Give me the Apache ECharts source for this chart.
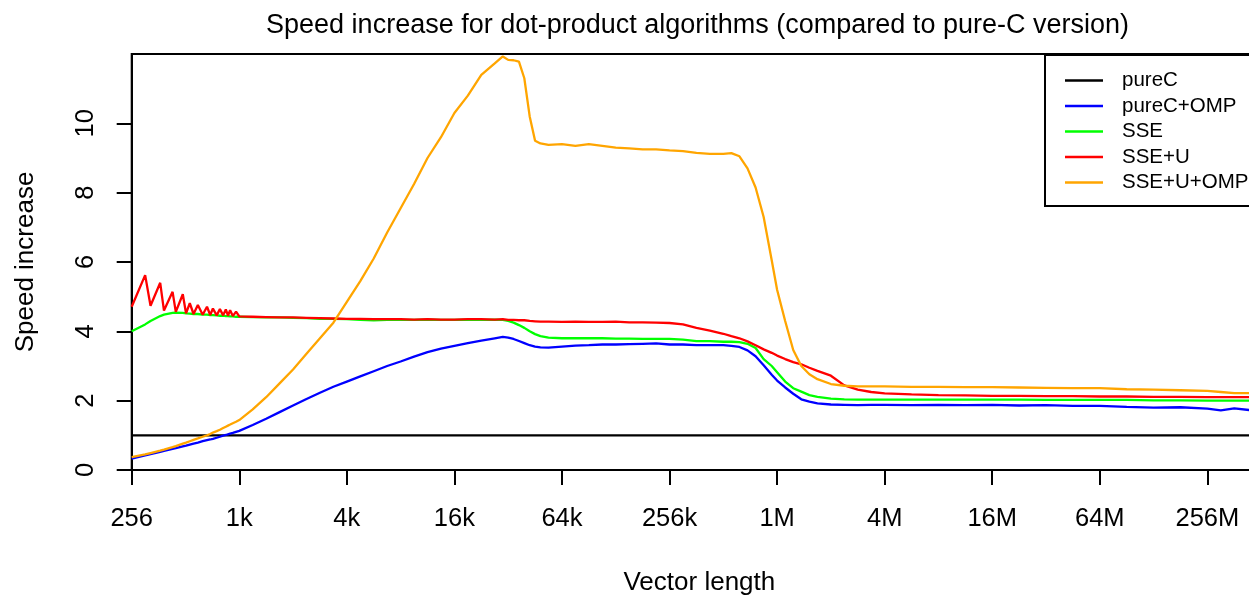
<!DOCTYPE html>
<html><head><meta charset="utf-8">
<script src="https://cdn.jsdelivr.net/npm/echarts@6/dist/echarts.min.js"></script>
<style>html,body{margin:0;padding:0;background:#fff}#c{width:1249px;height:595px}</style>
</head><body><div id="c"></div>
<script>
const FONT = "'Liberation Sans', Arial, Helvetica, sans-serif";

// x positions: log2 of vector length
const log2Len = [8.00, 8.25, 8.35, 8.53, 8.60, 8.76, 8.82, 8.95, 9.01, 9.08, 9.15, 9.23, 9.32, 9.40, 9.46, 9.51, 9.58, 9.64, 9.70, 9.75, 9.79, 9.83, 9.88, 9.94, 10.0,
  10.25, 10.5, 10.75, 11.0, 11.25, 11.5, 11.75, 12.0, 12.25, 12.5, 12.75, 13.0, 13.25, 13.5, 13.75, 14.0, 14.25, 14.5, 14.75,
  14.9, 15.0, 15.1, 15.2, 15.3, 15.4, 15.5, 15.6, 15.75,
  16.0, 16.25, 16.5, 16.75, 17.0, 17.25, 17.5, 17.75, 18.0, 18.25, 18.5, 18.75, 19.0,
  19.15, 19.3, 19.45, 19.6, 19.75, 19.9, 20.0, 20.15, 20.3, 20.45, 20.6, 20.75,
  21.0, 21.25, 21.5, 21.75, 22.0, 22.5, 23.0, 23.5, 24.0, 24.5, 25.0, 25.5, 26.0, 26.5, 27.0, 27.5, 28.0, 28.25, 28.5, 28.83];

const pureCLen = [8.00, 28.83];
const pureC = [1, 1];

const pureCOMP = [0.33, 0.42, 0.46, 0.52, 0.55, 0.61, 0.63, 0.68, 0.70, 0.73, 0.76, 0.79, 0.83, 0.86, 0.88, 0.90, 0.93, 0.96, 0.99, 1.01, 1.03, 1.05, 1.07, 1.10, 1.13,
  1.30, 1.48, 1.67, 1.86, 2.05, 2.23, 2.40, 2.55, 2.70, 2.85, 3.00, 3.13, 3.27, 3.40, 3.50, 3.58, 3.66, 3.73, 3.80,
  3.84, 3.82, 3.78, 3.72, 3.66, 3.60, 3.56, 3.54, 3.53,
  3.56, 3.59, 3.60, 3.62, 3.62, 3.63, 3.64, 3.65, 3.62, 3.62, 3.60, 3.60, 3.60,
  3.58, 3.55, 3.45, 3.28, 3.02, 2.75, 2.58, 2.38, 2.20, 2.04, 1.97, 1.92,
  1.89, 1.88, 1.87, 1.88, 1.88, 1.87, 1.88, 1.87, 1.88, 1.86, 1.87, 1.85, 1.85, 1.82, 1.80, 1.81, 1.77, 1.72, 1.78, 1.72];

const sse = [4.00, 4.20, 4.30, 4.44, 4.48, 4.53, 4.54, 4.53, 4.52, 4.51, 4.50, 4.50, 4.48, 4.48, 4.47, 4.47, 4.46, 4.45, 4.45, 4.44, 4.44, 4.43, 4.43, 4.42, 4.42,
  4.41, 4.40, 4.40, 4.39, 4.38, 4.36, 4.36, 4.35, 4.33, 4.32, 4.33, 4.33, 4.33, 4.34, 4.33, 4.33, 4.34, 4.33, 4.34,
  4.33, 4.30, 4.25, 4.18, 4.10, 4.00, 3.92, 3.86, 3.82,
  3.80, 3.80, 3.80, 3.80, 3.79, 3.79, 3.78, 3.78, 3.78, 3.76, 3.72, 3.72, 3.70,
  3.70, 3.69, 3.64, 3.52, 3.20, 3.00, 2.82, 2.55, 2.36, 2.26, 2.16, 2.11,
  2.06, 2.04, 2.03, 2.03, 2.03, 2.03, 2.03, 2.03, 2.03, 2.03, 2.02, 2.02, 2.02, 2.02, 2.01, 2.01, 2.00, 2.00, 2.00, 2.00];

const sseU = [4.71, 5.62, 4.74, 5.40, 4.60, 5.14, 4.56, 5.07, 4.52, 4.81, 4.50, 4.76, 4.48, 4.71, 4.47, 4.66, 4.46, 4.64, 4.46, 4.63, 4.45, 4.61, 4.44, 4.57, 4.43,
  4.42, 4.41, 4.40, 4.40, 4.39, 4.38, 4.37, 4.36, 4.36, 4.35, 4.35, 4.35, 4.34, 4.35, 4.34, 4.34, 4.35, 4.35, 4.34,
  4.35, 4.33, 4.33, 4.32, 4.32, 4.30, 4.29, 4.28, 4.28,
  4.27, 4.28, 4.27, 4.27, 4.28, 4.26, 4.26, 4.25, 4.24, 4.20, 4.10, 4.02, 3.93,
  3.86, 3.80, 3.71, 3.60, 3.48, 3.38, 3.30, 3.20, 3.11, 3.05, 2.95, 2.86,
  2.72, 2.44, 2.32, 2.25, 2.21, 2.18, 2.16, 2.15, 2.14, 2.14, 2.13, 2.13, 2.12, 2.12, 2.11, 2.11, 2.10, 2.10, 2.10, 2.10];

const sseUOMP = [0.37, 0.45, 0.49, 0.56, 0.59, 0.66, 0.69, 0.76, 0.79, 0.83, 0.87, 0.91, 0.96, 1.00, 1.04, 1.08, 1.12, 1.16, 1.21, 1.25, 1.28, 1.31, 1.35, 1.39, 1.44,
  1.75, 2.10, 2.50, 2.90, 3.35, 3.80, 4.25, 4.85, 5.45, 6.10, 6.85, 7.55, 8.25, 9.00, 9.60, 10.30, 10.80, 11.40, 11.73,
  11.93, 11.83, 11.82, 11.78, 11.30, 10.20, 9.50, 9.42, 9.38,
  9.40, 9.35, 9.40, 9.35, 9.30, 9.28, 9.25, 9.25, 9.22, 9.20, 9.15, 9.12, 9.12,
  9.14, 9.05, 8.70, 8.15, 7.30, 6.05, 5.20, 4.30, 3.46, 3.00, 2.76, 2.62,
  2.48, 2.43, 2.41, 2.41, 2.41, 2.40, 2.40, 2.39, 2.39, 2.38, 2.37, 2.36, 2.36, 2.33, 2.32, 2.30, 2.28, 2.25, 2.22, 2.22];

const xTickExp = [8, 10, 12, 14, 16, 18, 20, 22, 24, 26, 28];
const xTickLabels = ['256', '1k', '4k', '16k', '64k', '256k', '1M', '4M', '16M', '64M', '256M'];
const yTicks = [0, 2, 4, 6, 8, 10];

const seriesNames = ['pureC', 'pureC+OMP', 'SSE', 'SSE+U', 'SSE+U+OMP'];
const seriesColors = ['#000000', '#0000ff', '#00ff00', '#ff0000', '#ffa500'];

function pairs(xs, ys) { return xs.map((x, i) => [x, ys[i]]); }
const seriesData = [pairs(pureCLen, pureC), pairs(log2Len, pureCOMP), pairs(log2Len, sse), pairs(log2Len, sseU), pairs(log2Len, sseUOMP)];

const chart = echarts.init(document.getElementById('c'), null, { renderer: 'canvas' });
chart.setOption({
  animation: false,
  backgroundColor: '#fff',
  title: {
    text: 'Speed increase for dot-product algorithms (compared to pure-C version)',
    left: 697.5, top: 12, textAlign: 'center', padding: 0,
    textStyle: { fontSize: 27, fontWeight: 'normal', color: '#000', fontFamily: FONT }
  },
  grid: { left: 131.7, top: 54, bottom: 125, right: -3, show: true, borderColor: '#000', borderWidth: 2, backgroundColor: 'transparent', containLabel: false, outerBoundsMode: 'none' },
  xAxis: {
    type: 'value', min: 8, max: 28.83, interval: 2,
    axisLine: { show: true, lineStyle: { color: '#000', width: 2 } },
    axisTick: { show: true, length: 15, lineStyle: { color: '#000', width: 2 }, customValues: xTickExp },
    axisLabel: {
      customValues: xTickExp,
      formatter: v => xTickLabels[xTickExp.indexOf(Math.round(v))],
      fontSize: 25.5, color: '#000', margin: 36, fontFamily: FONT
    },
    splitLine: { show: false },
    name: 'Vector length', nameLocation: 'middle', nameGap: 100,
    nameTextStyle: { fontSize: 26, color: '#000', fontFamily: FONT, padding: [0, 0, 0, 15] }
  },
  yAxis: {
    type: 'value', min: 0, max: 12, interval: 2,
    axisLine: { show: true, lineStyle: { color: '#000', width: 2 } },
    axisTick: { show: true, length: 15, lineStyle: { color: '#000', width: 2 }, customValues: yTicks },
    axisLabel: { customValues: yTicks, rotate: 90, fontSize: 25.5, color: '#000', margin: 33, fontFamily: FONT },
    splitLine: { show: false },
    name: 'Speed increase', nameLocation: 'middle', nameGap: 93,
    nameTextStyle: { fontSize: 26, color: '#000', fontFamily: FONT }
  },
  legend: {
    orient: 'vertical', left: 1045, top: 55,
    backgroundColor: '#fff', borderColor: '#000', borderWidth: 2,
    padding: [15, 40, 13, 20],
    itemWidth: 38, itemHeight: 2.5, itemGap: 4.5, icon: 'rect',
    textStyle: { fontSize: 20.5, color: '#000', fontFamily: FONT, lineHeight: 20, padding: [0, 0, 0, 14] },
    data: seriesNames
  },
  series: seriesNames.map((name, i) => ({
    name, type: 'line', data: seriesData[i], symbol: 'none', smooth: false,
    color: seriesColors[i],
    itemStyle: { color: seriesColors[i] },
    lineStyle: { color: seriesColors[i], width: 2.3 },
    z: 2 + i
  }))
});
</script></body></html>
